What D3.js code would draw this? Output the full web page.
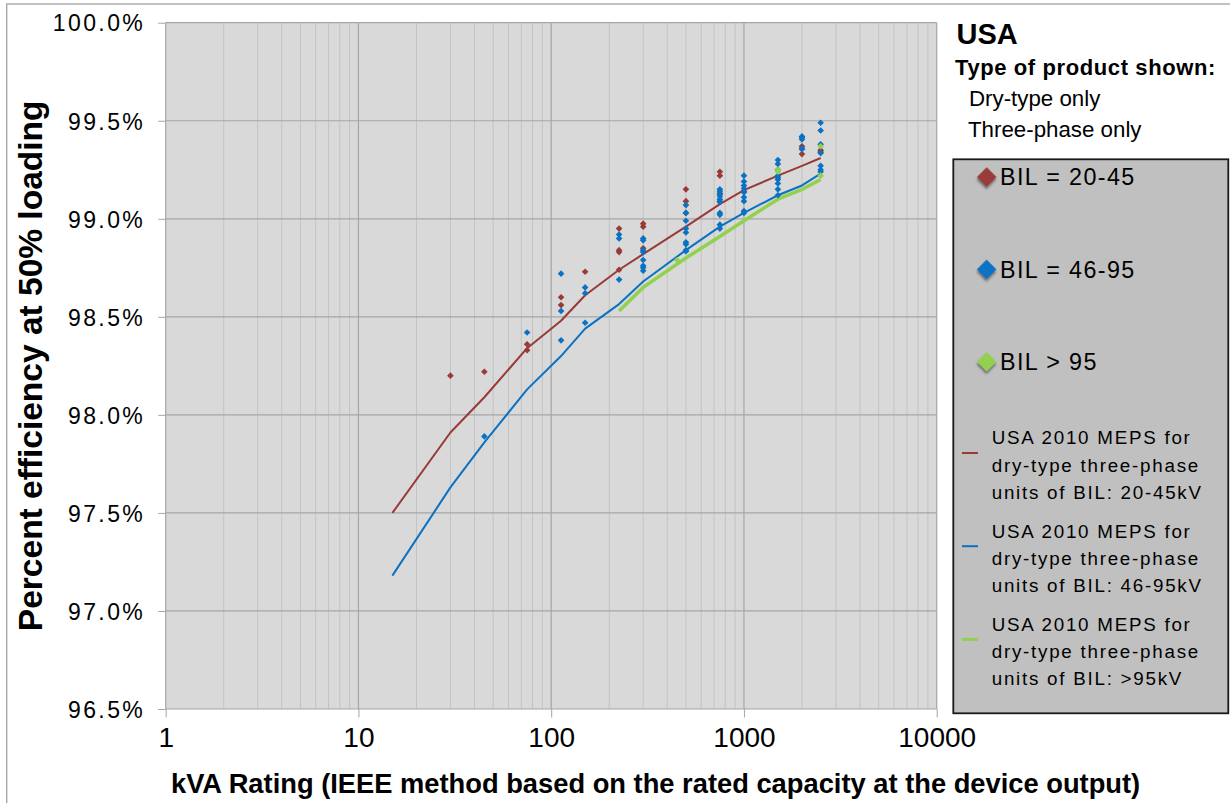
<!DOCTYPE html>
<html>
<head>
<meta charset="utf-8">
<script src="https://cdn.jsdelivr.net/npm/d3@7"></script>
<style>
  body { margin: 0; background: #fff; }
  svg { display: block; font-family: "Liberation Sans", Arial, sans-serif; }
  .grid-minor { stroke: #c3c3c3; stroke-width: 1; }
  .grid-major { stroke: #a6a6a6; stroke-width: 1.2; }
  .axis text { fill: #000; }
  .axis line { stroke: #a6a6a6; }
</style>
</head>
<body>
<div id="chart"></div>
<script>
// MEPS curves (USA 2010, dry-type three-phase)
const mepsKva = [15, 30, 45, 75, 112.5, 150, 225, 300, 500, 750, 1000, 1500, 2000, 2500];
const meps20to45 = [97.50, 97.91, 98.09, 98.34, 98.48, 98.61, 98.74, 98.82, 98.96, 99.075, 99.146, 99.22, 99.27, 99.31];
const meps46to95 = [97.18, 97.63, 97.86, 98.13, 98.30, 98.44, 98.565, 98.68, 98.84, 98.96, 99.03, 99.12, 99.17, 99.23];
const mepsOver95Kva = [225, 300, 500, 750, 1000, 1500, 2000, 2500];
const mepsOver95 = [98.53, 98.65, 98.80, 98.91, 98.99, 99.10, 99.15, 99.20];

// products [kVA, efficiency %]
const bil20to45 = [[30,98.20],[45,98.22],[75,98.36],[75,98.33],[112.5,98.60],[112.5,98.56],[150,98.73],
  [225,98.95],[225,98.84],[225,98.83],[225,98.74],[300,98.975],[300,98.96],[300,98.85],
  [500,99.15],[500,99.09],[500,99.03],[750,99.24],[750,99.22],[750,99.13],[750,99.09],
  [1000,99.14],[2000,99.37],[2000,99.33],[2500,99.35],[2500,99.34]];
const bil46to95 = [[45,97.89],[75,98.42],[112.5,98.72],[112.5,98.53],[112.5,98.38],[150,98.65],[150,98.62],[150,98.47],
  [225,98.92],[225,98.90],[225,98.69],[300,98.90],[300,98.89],[300,98.84],[300,98.83],[300,98.79],[300,98.76],[300,98.75],[300,98.735],
  [500,99.07],[500,99.03],[500,98.99],[500,98.95],[500,98.93],[500,98.88],[500,98.87],[500,98.84],[500,98.835],
  [750,99.15],[750,99.14],[750,99.125],[750,99.115],[750,99.10],[750,99.085],[750,99.03],[750,99.02],[750,98.97],[750,98.95],
  [1000,99.22],[1000,99.19],[1000,99.17],[1000,99.155],[1000,99.135],[1000,99.11],[1000,99.09],[1000,99.04],[1000,99.03],
  [1500,99.30],[1500,99.28],[1500,99.25],[1500,99.22],[1500,99.21],[1500,99.20],[1500,99.18],[1500,99.15],[1500,99.12],
  [2000,99.42],[2000,99.415],[2000,99.405],[2000,99.36],[2000,99.355],
  [2500,99.49],[2500,99.45],[2500,99.38],[2500,99.335],[2500,99.27],[2500,99.25],[2500,99.24]];
const bilOver95 = [[450,98.79],[1500,99.25],[1500,99.24],[2500,99.37],[2500,99.22]];

const xTicks = [1, 10, 100, 1000, 10000];
const markerLabels = ['BIL = 20-45', 'BIL = 46-95', 'BIL > 95'];
const lineLabels = [
  ['USA 2010 MEPS for', 'dry-type three-phase', 'units of BIL: 20-45kV'],
  ['USA 2010 MEPS for', 'dry-type three-phase', 'units of BIL: 46-95kV'],
  ['USA 2010 MEPS for', 'dry-type three-phase', 'units of BIL: >95kV']
];
const colors = ['#993a37', '#0a72c2', '#92d050'];

const W = 1230, H = 803;
const plot = { left: 165.7, right: 936.7, top: 22.7, bottom: 709 };

const svg = d3.select('#chart').append('svg')
  .attr('width', W).attr('height', H);

const defs = svg.append('defs');
defs.append('filter').attr('id', 'shadow')
  .attr('x', '-50%').attr('y', '-50%').attr('width', '200%').attr('height', '200%')
  .append('feDropShadow')
  .attr('dx', 1.5).attr('dy', 2).attr('stdDeviation', 1.3)
  .attr('flood-color', '#333').attr('flood-opacity', 0.6);

// chart border
svg.append('rect')
  .attr('x', 6.7).attr('y', 4).attr('width', W).attr('height', H)
  .attr('fill', '#fff').attr('stroke', '#a0a0a0').attr('stroke-width', 1.3);

const x = d3.scaleLog().domain([1, 10000]).range([plot.left, plot.right]);
const y = d3.scaleLinear().domain([96.5, 100]).range([plot.bottom, plot.top]);

svg.append('rect')
  .attr('x', plot.left).attr('y', plot.top)
  .attr('width', plot.right - plot.left).attr('height', plot.bottom - plot.top)
  .attr('fill', '#d9d9d9');

const minorTicks = x.ticks().filter(d => !xTicks.includes(d));
svg.append('g').selectAll('line')
  .data(minorTicks)
  .join('line')
  .attr('class', 'grid-minor')
  .attr('x1', d => x(d)).attr('x2', d => x(d))
  .attr('y1', plot.top).attr('y2', plot.bottom);

svg.append('g').selectAll('line')
  .data(xTicks)
  .join('line')
  .attr('class', 'grid-major')
  .attr('x1', d => x(d)).attr('x2', d => x(d))
  .attr('y1', plot.top).attr('y2', plot.bottom);

svg.append('g').selectAll('line')
  .data(y.ticks(7))
  .join('line')
  .attr('class', 'grid-major')
  .attr('x1', plot.left).attr('x2', plot.right)
  .attr('y1', d => y(d)).attr('y2', d => y(d));

// axes
const yAxis = svg.append('g')
  .attr('class', 'axis')
  .attr('transform', `translate(${plot.left},0)`)
  .call(d3.axisLeft(y).ticks(7).tickSize(7.5).tickPadding(13)
    .tickFormat(d => d3.format('.1f')(d) + '%'));
yAxis.select('.domain').remove();
yAxis.selectAll('text')
  .attr('font-size', 23).attr('letter-spacing', 2.4)
  .attr('dy', '0.36em').attr('font-family', '"Liberation Sans", Arial, sans-serif');

const xAxis = svg.append('g')
  .attr('class', 'axis')
  .attr('transform', `translate(0,${plot.bottom})`)
  .call(d3.axisBottom(x).tickValues(xTicks).tickSize(8.5).tickPadding(10)
    .tickFormat(d3.format('d')));
xAxis.select('.domain').remove();
xAxis.selectAll('text')
  .attr('font-size', 28).attr('dy', '0.71em')
  .attr('font-family', '"Liberation Sans", Arial, sans-serif');

svg.append('text')
  .attr('transform', `translate(41.5,${(plot.top + plot.bottom) / 2}) rotate(-90)`)
  .attr('text-anchor', 'middle')
  .attr('font-size', 33.5).attr('font-weight', 'bold')
  .text('Percent efficiency at 50% loading');

svg.append('text')
  .attr('x', 171).attr('y', 793)
  .attr('font-size', 27.3).attr('font-weight', 'bold')
  .text('kVA Rating (IEEE method based on the rated capacity at the device output)');

// MEPS lines
const line = d3.line().x(d => x(d[0])).y(d => y(d[1]));
const mepsSeries = [
  { pts: d3.zip(mepsKva, meps20to45), color: colors[0], w: 2 },
  { pts: d3.zip(mepsKva, meps46to95), color: colors[1], w: 2 },
  { pts: d3.zip(mepsOver95Kva, mepsOver95), color: colors[2], w: 3.5 }
];
svg.append('g').selectAll('path')
  .data(mepsSeries)
  .join('path')
  .attr('d', d => line(d.pts))
  .attr('fill', 'none')
  .attr('stroke', d => d.color)
  .attr('stroke-width', d => d.w)
  .attr('stroke-linejoin', 'round');

// product points
const diamond = d3.symbol().type(d3.symbolSquare).size(22);
[bil20to45, bil46to95, bilOver95].forEach((pts, i) => {
  svg.append('g').selectAll('path')
    .data(pts)
    .join('path')
    .attr('d', diamond)
    .attr('transform', d => `translate(${x(d[0])},${y(d[1])}) rotate(45)`)
    .attr('fill', colors[i]);
});

// legend header
svg.append('text')
  .attr('x', 956.5).attr('y', 44.3)
  .attr('font-size', 29).attr('font-weight', 'bold')
  .text('USA');
svg.append('text')
  .attr('x', 955).attr('y', 75)
  .attr('font-size', 22).attr('font-weight', 'bold').attr('letter-spacing', 0.6)
  .text('Type of product shown:');
svg.append('text')
  .attr('x', 969).attr('y', 106)
  .attr('font-size', 22.3)
  .text('Dry-type only');
svg.append('text')
  .attr('x', 968).attr('y', 136.7)
  .attr('font-size', 22.3)
  .text('Three-phase only');

// legend box
const lg = svg.append('g');
lg.append('rect')
  .attr('x', 953.3).attr('y', 159.3).attr('width', 275).attr('height', 554)
  .attr('fill', '#c0c0c0').attr('stroke', '#1a1a1a').attr('stroke-width', 1.8);

const bigDiamond = d3.symbol().type(d3.symbolSquare).size(190);
markerLabels.forEach((lab, i) => {
  const cy = 177 + i * 92.35;
  lg.append('path')
    .attr('d', bigDiamond)
    .attr('transform', `translate(986.7,${cy}) rotate(45)`)
    .attr('fill', colors[i])
    .attr('filter', 'url(#shadow)');
  lg.append('text')
    .attr('x', 1000).attr('y', cy + 8.2)
    .attr('font-size', 23.3).attr('letter-spacing', 1.4)
    .text(lab);
});

lineLabels.forEach((lines, i) => {
  const top = 444.3 + i * 93.2;
  lg.append('line')
    .attr('x1', 962).attr('x2', 978)
    .attr('y1', top + 8.7).attr('y2', top + 8.7)
    .attr('stroke', colors[i]).attr('stroke-width', i === 2 ? 3 : 2);
  lg.append('text')
    .attr('font-size', 18.8).attr('letter-spacing', 1.75)
    .selectAll('tspan')
    .data(lines)
    .join('tspan')
    .attr('x', 991.7)
    .attr('y', (d, j) => top + j * 27.35)
    .text(d => d);
});
</script>
</body>
</html>
